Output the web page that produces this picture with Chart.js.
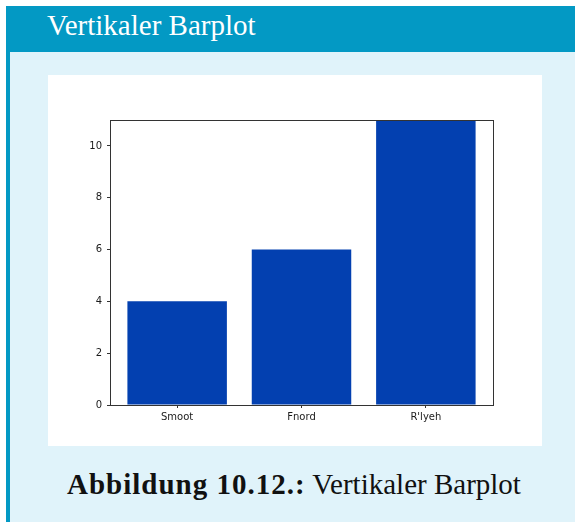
<!DOCTYPE html>
<html>
<head>
<meta charset="utf-8">
<script src="https://cdn.jsdelivr.net/npm/chart.js@4"></script>
<style>
  html, body { margin: 0; padding: 0; background: #fff; }
  #frame { position: absolute; left: 6px; top: 6px; width: 569px; height: 516px; background: #e0f3fa; border-left: 4px solid #0399c4; box-sizing: border-box; }
  #head { position: absolute; left: 6px; top: 6px; width: 569px; height: 46px; background: #0399c4; }
  #title { position: absolute; left: 47px; top: 11px; font: 29px/1 "Liberation Serif", serif; color: #fff; white-space: nowrap; }
  #plotbox { position: absolute; left: 48px; top: 75px; width: 494px; height: 371px; background: #fff; }
  #caption { position: absolute; left: 67px; top: 470px; font: 29px/1 "Liberation Serif", serif; color: #111; white-space: nowrap; }
  #caption b { letter-spacing: 1px; }
</style>
</head>
<body>
<div id="frame"></div>
<div id="head"></div>
<div id="title">Vertikaler Barplot</div>
<div id="plotbox"><canvas id="chart" width="494" height="371"></canvas></div>
<div id="caption"><b>Abbildung 10.12.:</b> Vertikaler Barplot</div>
<script>
// Werte
const categories = ['Smoot', 'Fnord', "R'lyeh"];
const values = [4, 6, 11];
const yTicks = [0, 2, 4, 6, 8, 10];

const tickFont = { family: 'DejaVu Sans', size: 10 };

// Rahmen oben/rechts wie bei matplotlib
const spines = {
    id: 'spines',
    afterDraw(chart) {
        const { ctx, chartArea: a } = chart;
        ctx.save();
        ctx.strokeStyle = '#333';
        ctx.lineWidth = 1;
        ctx.strokeRect(a.left + 0.5, a.top + 0.5, a.right - a.left, a.bottom - a.top);
        ctx.restore();
    }
};

new Chart(document.getElementById('chart'), {
    type: 'bar',
    data: {
        datasets: [{
            data: values.map((v, i) => ({ x: i, y: v })),
            backgroundColor: '#0340b0',
            barPercentage: 0.8,
            categoryPercentage: 1
        }]
    },
    options: {
        responsive: false,
        animation: false,
        layout: { padding: { left: 0, top: 45, right: 49, bottom: 0 } },
        plugins: { legend: { display: false }, tooltip: { enabled: false } },
        scales: {
            x: {
                type: 'linear',
                offset: false,
                min: -0.54,
                max: 2.54,
                afterBuildTicks: axis => { axis.ticks = categories.map((_, i) => ({ value: i })); },
                afterFit: axis => { axis.height = 41; },
                ticks: {
                    callback: v => categories[v],
                    font: tickFont,
                    color: '#1a1a1a',
                    padding: 3,
                    maxRotation: 0,
                    autoSkip: false
                },
                grid: { offset: false, drawOnChartArea: false, tickLength: 3, color: '#333' },
                border: { color: '#333' }
            },
            y: {
                min: 0,
                max: 11,
                afterBuildTicks: axis => { axis.ticks = yTicks.map(v => ({ value: v })); },
                afterFit: axis => { axis.width = 62; },
                ticks: { font: tickFont, color: '#1a1a1a', padding: 5 },
                grid: { drawOnChartArea: false, tickLength: 3, color: '#333' },
                border: { color: '#333' }
            }
        }
    },
    plugins: [spines]
});
</script>
</body>
</html>
